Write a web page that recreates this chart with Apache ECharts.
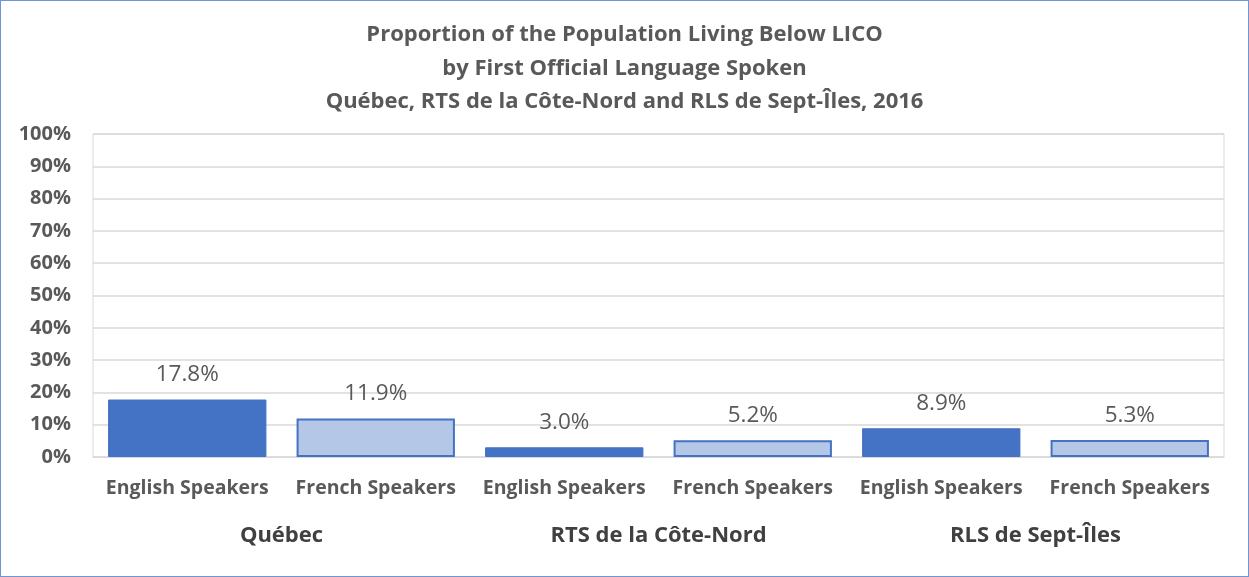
<!DOCTYPE html>
<html>
<head>
<meta charset="utf-8">
<script src="https://cdn.jsdelivr.net/npm/echarts@6/dist/echarts.min.js"></script>
<style>
  html, body { margin: 0; padding: 0; background: #fff; }
  #chart {
    width: 1247px; height: 575px;
    border: 1px solid #6f95d6;
  }
</style>
</head>
<body>
<div id="chart"></div>
<script>
var categories = ['English Speakers', 'French Speakers', 'English Speakers', 'French Speakers', 'English Speakers', 'French Speakers'];
var groups = ['Québec', 'RTS de la Côte-Nord', 'RLS de Sept-Îles'];
var values = [17.8, 11.9, 3.0, 5.2, 8.9, 5.3];
var yTicks = [0, 10, 20, 30, 40, 50, 60, 70, 80, 90, 100];

var font = '"Open Sans", "Noto Sans", sans-serif';
var textGray = '#595959';

var myChart = echarts.init(document.getElementById('chart'));

var option = {
  animation: false,
  title: {
    text: 'Proportion of the Population Living Below LICO\nby First Official Language Spoken\nQuébec, RTS de la Côte-Nord and RLS de Sept-Îles, 2016',
    left: 'center',
    top: 12,
    textStyle: {
      color: textGray,
      fontFamily: font,
      fontWeight: 'bold',
      fontSize: 22,
      lineHeight: 33.5
    }
  },
  grid: {
    left: 92,
    right: 24,
    top: 133,
    bottom: 119,
    show: true,
    borderColor: '#d9d9d9',
    borderWidth: 1
  },
  xAxis: [{
    type: 'category',
    data: categories,
    axisLine: { lineStyle: { color: '#d9d9d9' } },
    axisTick: { show: false },
    axisLabel: {
      interval: 0,
      color: textGray,
      fontFamily: font,
      fontWeight: 'bold',
      fontSize: 19.5,
      margin: 21
    }
  }, {
    type: 'category',
    data: groups,
    position: 'bottom',
    offset: 0,
    axisLine: { show: false },
    axisTick: { show: false },
    axisLabel: {
      interval: 0,
      color: '#404040',
      fontFamily: font,
      fontWeight: 'bold',
      fontSize: 22,
      margin: 68
    }
  }],
  yAxis: {
    type: 'value',
    min: yTicks[0],
    max: yTicks[yTicks.length - 1],
    interval: 10,
    axisLine: { show: false },
    axisTick: { show: false },
    splitLine: { lineStyle: { color: '#d9d9d9', width: 1.5 } },
    axisLabel: {
      color: textGray,
      fontFamily: font,
      fontWeight: 'bold',
      fontSize: 20,
      margin: 22,
      formatter: function (v) { return v + '%'; }
    }
  },
  series: [{
    type: 'bar',
    xAxisIndex: 0,
    barCategoryGap: '16%',
    data: values.map(function (v, i) {
      var english = i % 2 === 0;
      return {
        value: v,
        itemStyle: english
          ? { color: '#4472c4', borderColor: '#4472c4', borderWidth: 1 }
          : { color: '#b4c7e7', borderColor: '#4472c4', borderWidth: 2 }
      };
    }),
    label: {
      show: true,
      position: 'top',
      distance: 13,
      color: textGray,
      fontFamily: font,
      fontSize: 22.5,
      formatter: function (p) { return p.value.toFixed(1) + '%'; }
    }
  }]
};

myChart.setOption(option);
</script>
</body>
</html>
